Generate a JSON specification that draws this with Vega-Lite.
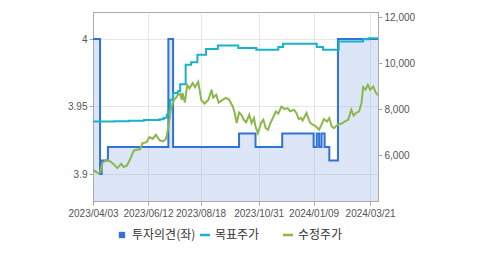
{
  "$schema": "https://vega.github.io/schema/vega-lite/v6.json",
  "autosize": {"type": "none"},
  "width": 285,
  "height": 189,
  "padding": {"left": 93, "top": 12, "right": 101, "bottom": 54},
  "background": "white",
  "config": {
    "view": {"stroke": "#aaaaaa", "strokeWidth": 1},
    "font": "Liberation Sans",
    "axis": {
      "labelFont": "Liberation Sans",
      "labelFontSize": 10,
      "labelColor": "#555555",
      "domainColor": "#aaaaaa",
      "tickColor": "#aaaaaa",
      "tickSize": 4,
      "labelPadding": 2,
      "gridColor": "#e6e6e6"
    }
  },
  "datasets": {
    "opinion": [
      {"date": "2023-04-03", "value": 4, "series": "투자의견(좌)"},
      {"date": "2023-04-12", "value": 3.9, "series": "투자의견(좌)"},
      {"date": "2023-04-14", "value": 3.91, "series": "투자의견(좌)"},
      {"date": "2023-04-22", "value": 3.92, "series": "투자의견(좌)"},
      {"date": "2023-07-08", "value": 4, "series": "투자의견(좌)"},
      {"date": "2023-07-14", "value": 3.92, "series": "투자의견(좌)"},
      {"date": "2023-10-06", "value": 3.93, "series": "투자의견(좌)"},
      {"date": "2023-10-27", "value": 3.92, "series": "투자의견(좌)"},
      {"date": "2023-11-30", "value": 3.93, "series": "투자의견(좌)"},
      {"date": "2024-01-09", "value": 3.92, "series": "투자의견(좌)"},
      {"date": "2024-01-13", "value": 3.93, "series": "투자의견(좌)"},
      {"date": "2024-01-16", "value": 3.92, "series": "투자의견(좌)"},
      {"date": "2024-01-19", "value": 3.93, "series": "투자의견(좌)"},
      {"date": "2024-01-23", "value": 3.92, "series": "투자의견(좌)"},
      {"date": "2024-01-29", "value": 3.91, "series": "투자의견(좌)"},
      {"date": "2024-02-09", "value": 4, "series": "투자의견(좌)"},
      {"date": "2024-03-31", "value": 4, "series": "투자의견(좌)"}
    ],
    "target": [
      {"date": "2023-04-03", "value": 7460, "series": "목표주가"},
      {"date": "2023-04-30", "value": 7470, "series": "목표주가"},
      {"date": "2023-05-19", "value": 7490, "series": "목표주가"},
      {"date": "2023-06-07", "value": 7520, "series": "목표주가"},
      {"date": "2023-06-27", "value": 7560, "series": "목표주가"},
      {"date": "2023-07-02", "value": 7620, "series": "목표주가"},
      {"date": "2023-07-06", "value": 7750, "series": "목표주가"},
      {"date": "2023-07-08", "value": 7900, "series": "목표주가"},
      {"date": "2023-07-10", "value": 8400, "series": "목표주가"},
      {"date": "2023-07-14", "value": 8700, "series": "목표주가"},
      {"date": "2023-07-20", "value": 8770, "series": "목표주가"},
      {"date": "2023-07-23", "value": 9080, "series": "목표주가"},
      {"date": "2023-07-30", "value": 9930, "series": "목표주가"},
      {"date": "2023-08-06", "value": 10030, "series": "목표주가"},
      {"date": "2023-08-14", "value": 10360, "series": "목표주가"},
      {"date": "2023-08-25", "value": 10610, "series": "목표주가"},
      {"date": "2023-09-09", "value": 10760, "series": "목표주가"},
      {"date": "2023-10-05", "value": 10650, "series": "목표주가"},
      {"date": "2023-10-28", "value": 10580, "series": "목표주가"},
      {"date": "2023-11-25", "value": 10700, "series": "목표주가"},
      {"date": "2023-12-01", "value": 10840, "series": "목표주가"},
      {"date": "2024-01-13", "value": 10700, "series": "목표주가"},
      {"date": "2024-01-21", "value": 10580, "series": "목표주가"},
      {"date": "2024-02-10", "value": 10940, "series": "목표주가"},
      {"date": "2024-03-12", "value": 11030, "series": "목표주가"},
      {"date": "2024-03-19", "value": 11080, "series": "목표주가"},
      {"date": "2024-03-31", "value": 11080, "series": "목표주가"}
    ],
    "price": [
      {"date": "2023-04-03", "value": 5350, "series": "수정주가"},
      {"date": "2023-04-09", "value": 5220, "series": "수정주가"},
      {"date": "2023-04-12", "value": 5240, "series": "수정주가"},
      {"date": "2023-04-15", "value": 5650, "series": "수정주가"},
      {"date": "2023-04-20", "value": 5800, "series": "수정주가"},
      {"date": "2023-04-25", "value": 5720, "series": "수정주가"},
      {"date": "2023-04-30", "value": 5580, "series": "수정주가"},
      {"date": "2023-05-04", "value": 5430, "series": "수정주가"},
      {"date": "2023-05-09", "value": 5620, "series": "수정주가"},
      {"date": "2023-05-12", "value": 5480, "series": "수정주가"},
      {"date": "2023-05-16", "value": 5535, "series": "수정주가"},
      {"date": "2023-05-21", "value": 5870, "series": "수정주가"},
      {"date": "2023-05-25", "value": 6200, "series": "수정주가"},
      {"date": "2023-05-29", "value": 6230, "series": "수정주가"},
      {"date": "2023-06-02", "value": 6260, "series": "수정주가"},
      {"date": "2023-06-05", "value": 6520, "series": "수정주가"},
      {"date": "2023-06-10", "value": 6550, "series": "수정주가"},
      {"date": "2023-06-14", "value": 6780, "series": "수정주가"},
      {"date": "2023-06-18", "value": 6700, "series": "수정주가"},
      {"date": "2023-06-22", "value": 6880, "series": "수정주가"},
      {"date": "2023-06-27", "value": 6640, "series": "수정주가"},
      {"date": "2023-07-01", "value": 6590, "series": "수정주가"},
      {"date": "2023-07-05", "value": 6700, "series": "수정주가"},
      {"date": "2023-07-07", "value": 7030, "series": "수정주가"},
      {"date": "2023-07-09", "value": 7460, "series": "수정주가"},
      {"date": "2023-07-11", "value": 7970, "series": "수정주가"},
      {"date": "2023-07-15", "value": 8400, "series": "수정주가"},
      {"date": "2023-07-18", "value": 8500, "series": "수정주가"},
      {"date": "2023-07-20", "value": 8620, "series": "수정주가"},
      {"date": "2023-07-23", "value": 8650, "series": "수정주가"},
      {"date": "2023-07-25", "value": 8400, "series": "수정주가"},
      {"date": "2023-07-26", "value": 8700, "series": "수정주가"},
      {"date": "2023-07-29", "value": 8280, "series": "수정주가"},
      {"date": "2023-08-01", "value": 9050, "series": "수정주가"},
      {"date": "2023-08-04", "value": 8900, "series": "수정주가"},
      {"date": "2023-08-08", "value": 9130, "series": "수정주가"},
      {"date": "2023-08-11", "value": 8950, "series": "수정주가"},
      {"date": "2023-08-15", "value": 9180, "series": "수정주가"},
      {"date": "2023-08-19", "value": 8380, "series": "수정주가"},
      {"date": "2023-08-23", "value": 8240, "series": "수정주가"},
      {"date": "2023-08-28", "value": 8400, "series": "수정주가"},
      {"date": "2023-09-01", "value": 8840, "series": "수정주가"},
      {"date": "2023-09-03", "value": 8500, "series": "수정주가"},
      {"date": "2023-09-07", "value": 8620, "series": "수정주가"},
      {"date": "2023-09-10", "value": 8280, "series": "수정주가"},
      {"date": "2023-09-15", "value": 8400, "series": "수정주가"},
      {"date": "2023-09-19", "value": 8480, "series": "수정주가"},
      {"date": "2023-09-23", "value": 8420, "series": "수정주가"},
      {"date": "2023-09-28", "value": 8110, "series": "수정주가"},
      {"date": "2023-09-30", "value": 7900, "series": "수정주가"},
      {"date": "2023-10-03", "value": 7390, "series": "수정주가"},
      {"date": "2023-10-06", "value": 7850, "series": "수정주가"},
      {"date": "2023-10-09", "value": 7750, "series": "수정주가"},
      {"date": "2023-10-12", "value": 7540, "series": "수정주가"},
      {"date": "2023-10-15", "value": 7420, "series": "수정주가"},
      {"date": "2023-10-19", "value": 7750, "series": "수정주가"},
      {"date": "2023-10-22", "value": 7390, "series": "수정주가"},
      {"date": "2023-10-25", "value": 7610, "series": "수정주가"},
      {"date": "2023-10-27", "value": 7240, "series": "수정주가"},
      {"date": "2023-10-30", "value": 6950, "series": "수정주가"},
      {"date": "2023-11-03", "value": 7390, "series": "수정주가"},
      {"date": "2023-11-06", "value": 7535, "series": "수정주가"},
      {"date": "2023-11-09", "value": 7170, "series": "수정주가"},
      {"date": "2023-11-12", "value": 7100, "series": "수정주가"},
      {"date": "2023-11-15", "value": 7390, "series": "수정주가"},
      {"date": "2023-11-18", "value": 7600, "series": "수정주가"},
      {"date": "2023-11-22", "value": 7896, "series": "수정주가"},
      {"date": "2023-11-25", "value": 7800, "series": "수정주가"},
      {"date": "2023-11-29", "value": 8110, "series": "수정주가"},
      {"date": "2023-12-03", "value": 8000, "series": "수정주가"},
      {"date": "2023-12-07", "value": 8040, "series": "수정주가"},
      {"date": "2023-12-10", "value": 7900, "series": "수정주가"},
      {"date": "2023-12-15", "value": 7970, "series": "수정주가"},
      {"date": "2023-12-18", "value": 7830, "series": "수정주가"},
      {"date": "2023-12-21", "value": 7565, "series": "수정주가"},
      {"date": "2023-12-24", "value": 7610, "series": "수정주가"},
      {"date": "2023-12-26", "value": 7500, "series": "수정주가"},
      {"date": "2023-12-31", "value": 7830, "series": "수정주가"},
      {"date": "2024-01-02", "value": 7610, "series": "수정주가"},
      {"date": "2024-01-05", "value": 7390, "series": "수정주가"},
      {"date": "2024-01-08", "value": 7320, "series": "수정주가"},
      {"date": "2024-01-12", "value": 7240, "series": "수정주가"},
      {"date": "2024-01-16", "value": 7100, "series": "수정주가"},
      {"date": "2024-01-19", "value": 7320, "series": "수정주가"},
      {"date": "2024-01-22", "value": 7565, "series": "수정주가"},
      {"date": "2024-01-26", "value": 7460, "series": "수정주가"},
      {"date": "2024-01-29", "value": 7610, "series": "수정주가"},
      {"date": "2024-02-01", "value": 7240, "series": "수정주가"},
      {"date": "2024-02-04", "value": 7170, "series": "수정주가"},
      {"date": "2024-02-06", "value": 7240, "series": "수정주가"},
      {"date": "2024-02-09", "value": 7320, "series": "수정주가"},
      {"date": "2024-02-13", "value": 7360, "series": "수정주가"},
      {"date": "2024-02-18", "value": 7460, "series": "수정주가"},
      {"date": "2024-02-22", "value": 7535, "series": "수정주가"},
      {"date": "2024-02-26", "value": 7970, "series": "수정주가"},
      {"date": "2024-02-29", "value": 7710, "series": "수정주가"},
      {"date": "2024-03-03", "value": 7830, "series": "수정주가"},
      {"date": "2024-03-07", "value": 7900, "series": "수정주가"},
      {"date": "2024-03-10", "value": 8260, "series": "수정주가"},
      {"date": "2024-03-12", "value": 8950, "series": "수정주가"},
      {"date": "2024-03-15", "value": 8840, "series": "수정주가"},
      {"date": "2024-03-18", "value": 9056, "series": "수정주가"},
      {"date": "2024-03-21", "value": 8840, "series": "수정주가"},
      {"date": "2024-03-25", "value": 8980, "series": "수정주가"},
      {"date": "2024-03-28", "value": 8720, "series": "수정주가"},
      {"date": "2024-03-31", "value": 8600, "series": "수정주가"}
    ]
  },
  "encoding": {
    "x": {
      "field": "date",
      "type": "temporal",
      "scale": {
        "type": "utc",
        "domain": [
          {"year": 2023, "month": 4, "date": 3, "utc": true},
          {"year": 2024, "month": 3, "date": 31, "utc": true}
        ]
      },
      "axis": {
        "title": null,
        "values": [
          {"year": 2023, "month": 4, "date": 3, "utc": true},
          {"year": 2023, "month": 6, "date": 12, "utc": true},
          {"year": 2023, "month": 8, "date": 18, "utc": true},
          {"year": 2023, "month": 10, "date": 31, "utc": true},
          {"year": 2024, "month": 1, "date": 9, "utc": true},
          {"year": 2024, "month": 3, "date": 21, "utc": true}
        ],
        "labelExpr": "utcFormat(datum.value, '%Y/%m/%d')",
        "labelAngle": 0,
        "labelFlush": false,
        "labelOverlap": false,
        "labelPadding": 3,
        "grid": true
      }
    }
  },
  "layer": [
    {
      "data": {"name": "opinion"},
      "encoding": {
        "y": {
          "field": "value",
          "type": "quantitative",
          "scale": {"domain": [3.88, 4.02], "zero": false, "nice": false},
          "axis": {
            "title": null,
            "orient": "left",
            "values": [3.9, 3.95, 4],
            "labelExpr": "format(datum.value, '~g')",
            "grid": true
          }
        }
      },
      "layer": [
        {
          "mark": {"type": "area", "interpolate": "step-after", "color": "#8aace4", "opacity": 0.3, "clip": true}
        },
        {
          "mark": {"type": "line", "interpolate": "step-after", "strokeWidth": 2, "clip": true},
          "encoding": {
            "color": {
              "field": "series",
              "type": "nominal",
              "scale": {
                "domain": ["투자의견(좌)", "목표주가", "수정주가"],
                "range": ["#2f72d8", "#1bb1c7", "#8cb74b"]
              },
              "legend": {
                "title": null,
                "orient": "none",
                "legendX": 23,
                "legendY": 217,
                "direction": "horizontal",
                "columns": 3,
                "gridAlign": "all",
                "columnPadding": -1,
                "labelFont": "Noto Sans CJK KR",
                "labelFontSize": 12,
                "labelColor": "#333333",
                "symbolSize": 100,
                "symbolStrokeWidth": 2.5,
                "encode": {
                  "symbols": {
                    "update": {
                      "shape": {"signal": "datum.value === '투자의견(좌)' ? 'square' : 'stroke'"},
                      "size": {"signal": "datum.value === '투자의견(좌)' ? 40 : 100"},
                      "fill": {"signal": "datum.value === '투자의견(좌)' ? scale('color', datum.value) : 'transparent'"},
                      "strokeWidth": {"signal": "datum.value === '투자의견(좌)' ? 0 : 2.5"}
                    }
                  }
                }
              }
            }
          }
        }
      ]
    },
    {
      "encoding": {
        "y": {
          "field": "value",
          "type": "quantitative",
          "scale": {"domain": [4000, 12220], "zero": false, "nice": false},
          "axis": {
            "title": null,
            "orient": "right",
            "values": [6000, 8000, 10000, 12000],
            "labelExpr": "format(datum.value, ',')",
            "grid": false
          }
        },
        "color": {"field": "series", "type": "nominal"}
      },
      "layer": [
        {
          "data": {"name": "target"},
          "mark": {"type": "line", "interpolate": "step-after", "strokeWidth": 2, "clip": true}
        },
        {
          "data": {"name": "price"},
          "mark": {"type": "line", "interpolate": "linear", "strokeWidth": 2, "clip": true}
        }
      ]
    }
  ],
  "resolve": {"scale": {"y": "independent"}}
}
